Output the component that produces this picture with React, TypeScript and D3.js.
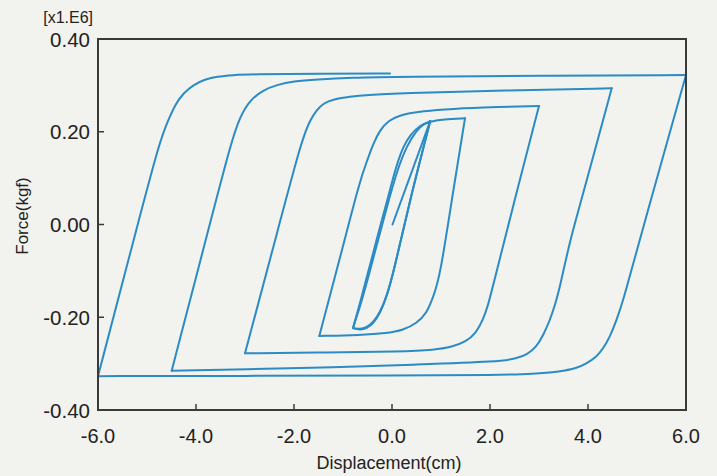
import React from "react";
import * as d3 from "d3";

// Displacement (cm) vs Force (x1e6 kgf)
const xTicks = [-6, -4, -2, 0, 2, 4, 6];
const yTicks = [-0.4, -0.2, 0, 0.2, 0.4];
const xTickLabels = ["-6.0", "-4.0", "-2.0", "0.0", "2.0", "4.0", "6.0"];
const yTickLabels = ["-0.40", "-0.20", "0.00", "0.20", "0.40"];

// initial loading
const b01 = [[0.01, 0], [0.78, 0.223]];
// cycles at 0.75 cm
const b02 = [[0.78, 0.223], [0.367, 0.0528], [0.027, -0.1053], [-0.108, -0.1557], [-0.245, -0.1915], [-0.381, -0.213], [-0.517, -0.224], [-0.653, -0.2276], [-0.796, -0.2232]];
const b03 = [[-0.796, -0.2232], [-0.6, -0.16], [-0.35, -0.06], [-0.1, 0.04], [0.1, 0.115], [0.3, 0.17], [0.5, 0.203], [0.65, 0.217], [0.78, 0.223]];
const b04 = [[0.78, 0.223], [0.38, 0.06], [0.04, -0.1], [-0.1, -0.152], [-0.24, -0.189], [-0.38, -0.211], [-0.52, -0.222], [-0.65, -0.2262], [-0.796, -0.2232]];
// 1.5 cm
const b05 = [[-0.796, -0.2232], [-0.653, -0.17], [-0.449, -0.0873], [-0.245, -0.0047], [-0.075, 0.06], [0.027, 0.103], [0.129, 0.139], [0.231, 0.168], [0.367, 0.193], [0.571, 0.2145], [0.81, 0.223], [1.047, 0.2269], [1.49, 0.229]];
const b06 = [[1.49, 0.229], [1.251, 0.0744], [0.98, -0.1126], [0.843, -0.1557], [0.708, -0.1915], [0.504, -0.213], [0.231, -0.2275], [-0.108, -0.2346], [-0.653, -0.2383], [-1.484, -0.2404]];
// 3.0 cm
const b07 = [[-1.484, -0.2404], [-1.061, -0.072], [-0.653, 0.096], [-0.516, 0.135], [-0.38, 0.175], [-0.245, 0.204], [-0.075, 0.224], [0.163, 0.236], [0.504, 0.243], [1.047, 0.2484], [1.796, 0.2527], [3.0, 0.2555]];
const b08 = [[3.0, 0.2555], [2.52, 0.06], [2.04, -0.141], [1.96, -0.174], [1.857, -0.206], [1.714, -0.234], [1.51, -0.253], [1.224, -0.264], [0.878, -0.2706], [0.163, -0.274], [-1.3, -0.276], [-3.0, -0.2777]];
// 4.5 cm
const b09 = [[-3.0, -0.2777], [-2.3, 0.0], [-1.843, 0.182], [-1.673, 0.2253], [-1.537, 0.2469], [-1.402, 0.2613], [-1.198, 0.27], [-0.857, 0.2756], [-0.516, 0.2792], [0.163, 0.2829], [2.3, 0.289], [4.484, 0.2937]];
const b10 = [[4.484, 0.2937], [3.904, 0.0673], [3.633, -0.0334], [3.429, -0.1341], [3.327, -0.1736], [3.224, -0.2059], [3.088, -0.2383], [2.952, -0.2634], [2.748, -0.2813], [2.544, -0.2885], [2.204, -0.2958], [0.5, -0.302], [-1.2, -0.308], [-3.0, -0.312], [-4.496, -0.3153]];
// 6.0 cm
const b11 = [[-4.496, -0.3153], [-3.72, 0.0], [-3.271, 0.182], [-3.102, 0.2325], [-2.898, 0.2685], [-2.627, 0.29], [-2.353, 0.301], [-2.014, 0.309], [-1.537, 0.313], [-0.857, 0.3166], [0.163, 0.3187], [3.0, 0.3205], [6.0, 0.3224]];
const b12 = [[6.0, 0.3224], [5.129, -0.0047], [4.925, -0.0837], [4.72, -0.163], [4.585, -0.2059], [4.449, -0.2419], [4.312, -0.267], [4.177, -0.2851], [3.973, -0.2993], [3.769, -0.3101], [3.429, -0.3173], [2.884, -0.3223], [2.204, -0.3245], [0.0, -0.3257], [-3.0, -0.3265], [-6.0, -0.327]];
// final loading back to zero displacement
const b13 = [[-6.0, -0.327], [-5.19, 0.0], [-4.735, 0.182], [-4.565, 0.225], [-4.429, 0.258], [-4.259, 0.283], [-4.055, 0.301], [-3.816, 0.313], [-3.578, 0.319], [-3.239, 0.322], [-2.898, 0.324], [-1.5, 0.3252], [-0.04, 0.3258]];

const branches = [b01, b02, b03, b04, b05, b06, b07, b08, b09, b10, b11, b12, b13];

const W = 717;
const H = 476;
const L = 98, R = 686, T = 39, B = 410;
const FONT = "'Liberation Sans', Arial, Helvetica, sans-serif";

export default function App() {
  const x = d3.scaleLinear().domain([-6, 6]).range([L, R]);
  const y = d3.scaleLinear().domain([-0.4, 0.4]).range([B, T]);
  const line = d3
    .line<number[]>()
    .x((d) => x(d[0]))
    .y((d) => y(d[1]))
    .curve(d3.curveBasis);

  return (
    <svg
      width={W}
      height={H}
      style={{ position: "absolute", left: 0, top: 0, display: "block" }}
    >
      <rect x={0} y={0} width={W} height={H} fill="#f2f2ee" />
      <g>
        {branches.map((b, i) => (
          <path
            key={i}
            d={line(b) || ""}
            fill="none"
            stroke="#2b8bc6"
            strokeWidth={2}
            strokeLinejoin="round"
            strokeLinecap="round"
          />
        ))}
      </g>
      <rect x={L} y={T} width={R - L} height={B - T} fill="none" stroke="#3a3a3a" strokeWidth={2} />
      {xTicks.map((t, i) => (
        <g key={"x" + i}>
          {i > 0 && i < xTicks.length - 1 && (
            <line x1={x(t)} x2={x(t)} y1={B} y2={B - 6} stroke="#3a3a3a" strokeWidth={1.5} />
          )}
          <text x={x(t)} y={443} textAnchor="middle" fontFamily={FONT} fontSize={20} fill="#222">
            {xTickLabels[i]}
          </text>
        </g>
      ))}
      {yTicks.map((t, i) => (
        <g key={"y" + i}>
          {i > 0 && i < yTicks.length - 1 && (
            <line x1={L} x2={L + 6} y1={y(t)} y2={y(t)} stroke="#3a3a3a" strokeWidth={1.5} />
          )}
          <text x={90} y={y(t) + 7.5} textAnchor="end" fontFamily={FONT} fontSize={20.5} fill="#222">
            {yTickLabels[i]}
          </text>
        </g>
      ))}
      <text x={93} y={23} textAnchor="end" fontFamily={FONT} fontSize={16} fill="#222">
        [x1.E6]
      </text>
      <text x={(L + R) / 2 - 3} y={469} textAnchor="middle" fontFamily={FONT} fontSize={18} fill="#222">
        Displacement(cm)
      </text>
      <text
        transform={`translate(28,216) rotate(-90)`}
        textAnchor="middle"
        fontFamily={FONT}
        fontSize={17}
        fill="#222"
      >
        Force(kgf)
      </text>
    </svg>
  );
}
